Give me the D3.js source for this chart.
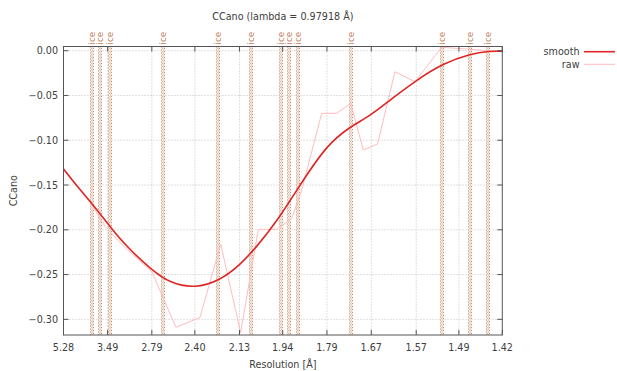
<!DOCTYPE html>
<html><head><meta charset="utf-8">
<script src="https://cdn.jsdelivr.net/npm/d3@7"></script>
<style>body{margin:0;background:#fff}svg{display:block}text{font-family:"DejaVu Sans",sans-serif}</style>
</head><body>
<script>
// x values are 1/d^2 (Å^-2); labels are resolution in Å
const xTickLabels = ["5.28","3.49","2.79","2.40","2.13","1.94","1.79","1.67","1.57","1.49","1.42"];
const yTicks = [0, -0.05, -0.10, -0.15, -0.20, -0.25, -0.30];
const iceRes = [3.897, 3.669, 3.441, 2.671, 2.249, 2.072, 1.948, 1.918, 1.883, 1.721, 1.521, 1.471, 1.442];
const smoothS = [0.0359,0.0511,0.0671,0.0846,0.1021,0.1284,0.1476,0.1737,0.1999,0.2209,0.2384,0.2594,0.2838,0.3118,0.3362,0.3572,0.3782,0.4061,0.4340,0.4620,0.4830,0.4959];
const smoothV = [-0.1321,-0.1528,-0.1723,-0.1966,-0.2189,-0.2449,-0.2596,-0.2655,-0.2565,-0.2394,-0.2189,-0.1910,-0.1500,-0.1053,-0.0849,-0.0729,-0.0551,-0.0327,-0.0141,-0.0037,-0.0003,-0.0007];
const rawS = [0.0385,0.0637,0.0794,0.0969,0.1284,0.1538,0.1790,0.2007,0.2216,0.2401,0.2594,0.2751,0.2856,0.3066,0.3223,0.3370,0.3502,0.3651,0.3834,0.4044,0.4323,0.4620,0.4812,0.4959];
const rawV = [-0.1355,-0.1690,-0.1960,-0.2162,-0.2468,-0.3089,-0.2978,-0.2159,-0.3150,-0.1995,-0.1995,-0.1875,-0.1556,-0.0699,-0.0699,-0.0588,-0.1109,-0.1042,-0.0235,-0.0346,0.0038,0.0016,0.0000,-0.0003];

const W = 617, H = 371;
const m = {l: 63.5, r: 502.3, t: 46.5, b: 335};
const svg = d3.select("body").append("svg").attr("width", W).attr("height", H);
const invD2 = d => 1 / (d * d);
const x = d3.scaleLinear().domain([invD2(5.28), invD2(1.42)]).range([m.l, m.r]);
const y = d3.scaleLinear().domain([-0.3175, 0.0047]).range([m.b, m.t]);
const txt = "#404040";

// grid
const xt = xTickLabels.map(l => invD2(+l));
svg.append("g").selectAll("line").data(xt.slice(1, -1)).join("line")
  .attr("x1", d => x(d)).attr("x2", d => x(d)).attr("y1", m.t).attr("y2", m.b)
  .attr("stroke", "#c0c0c0").attr("stroke-width", 1).attr("stroke-dasharray", "1,2");
svg.append("g").selectAll("line").data(yTicks).join("line")
  .attr("x1", m.l).attr("x2", m.r).attr("y1", d => y(d)).attr("y2", d => y(d))
  .attr("stroke", "#c0c0c0").attr("stroke-width", 1).attr("stroke-dasharray", "1,2");

// ice rings
const ice = svg.append("g");
iceRes.forEach(r => {
  const cx = Math.round(x(invD2(r)));
  ice.append("rect").attr("x", cx - 2).attr("y", m.t).attr("width", 4).attr("height", m.b - m.t)
    .attr("fill", "#f4ebe4");
  [-1.5, -0.5, 0.5, 1.5].forEach((o, k) => ice.append("line").attr("x1", cx + o).attr("x2", cx + o)
    .attr("y1", m.t).attr("y2", m.b).attr("stroke", k % 3 === 0 ? "#c4906e" : "#dcbca6").attr("stroke-width", 1)
    .attr("stroke-dasharray", "1,2").attr("stroke-dashoffset", k % 2 ? 1.5 : 0));
  ice.append("text").attr("transform", `translate(${cx + 3},${m.t - 2}) rotate(-90)`)
    .attr("font-size", 8.8).attr("fill", "#bf825c").text("ice");
});

// lines
const line = d3.line().x(d => x(d[0])).y(d => y(d[1]));
svg.append("path").datum(rawS.map((s, i) => [s, rawV[i]]))
  .attr("d", line).attr("fill", "none").attr("stroke", "#ffbcbc").attr("stroke-width", 1);
svg.append("path").datum(smoothS.map((s, i) => [s, smoothV[i]]))
  .attr("d", d3.line().x(d => x(d[0])).y(d => y(d[1])).curve(d3.curveBasis))
  .attr("fill", "none").attr("stroke", "#e02424").attr("stroke-width", 1.6);

// frame
svg.append("rect").attr("x", m.l).attr("y", m.t).attr("width", m.r - m.l).attr("height", m.b - m.t)
  .attr("fill", "none").attr("stroke", "#555").attr("stroke-width", 1);

// axes (ticks inward + mirror)
const tl = 5;
const ax = svg.append("g").attr("stroke", "#555");
xt.forEach(d => {
  ax.append("line").attr("x1", x(d)).attr("x2", x(d)).attr("y1", m.b).attr("y2", m.b - tl);
  ax.append("line").attr("x1", x(d)).attr("x2", x(d)).attr("y1", m.t).attr("y2", m.t + tl);
});
yTicks.forEach(d => {
  ax.append("line").attr("x1", m.l).attr("x2", m.l + tl).attr("y1", y(d)).attr("y2", y(d));
  ax.append("line").attr("x1", m.r).attr("x2", m.r - tl).attr("y1", y(d)).attr("y2", y(d));
});
svg.append("g").selectAll("text").data(xTickLabels).join("text")
  .attr("x", l => x(invD2(+l))).attr("y", 350.5).attr("text-anchor", "middle")
  .attr("font-size", 9.6).attr("fill", txt).text(l => l);
svg.append("g").selectAll("text").data(yTicks).join("text")
  .attr("x", 58).attr("y", d => y(d) + 3.5).attr("text-anchor", "end")
  .attr("font-size", 9.6).attr("fill", txt).text(d => d3.format(".2f")(d));

// titles
svg.append("text").attr("x", (m.l + m.r) / 2).attr("y", 20).attr("text-anchor", "middle")
  .attr("font-size", 9.6).attr("fill", txt).text("CCano (lambda = 0.97918 Å)");
svg.append("text").attr("x", (m.l + m.r) / 2).attr("y", 368).attr("text-anchor", "middle")
  .attr("font-size", 9.6).attr("fill", txt).text("Resolution [Å]");
svg.append("text").attr("transform", `translate(17,${(m.t + m.b) / 2}) rotate(-90)`).attr("text-anchor", "middle")
  .attr("font-size", 9.6).attr("fill", txt).text("CCano");

// legend
const leg = [["smooth", "#e02424", 1.6], ["raw", "#ffbcbc", 1]];
leg.forEach((l, i) => {
  const ly = 51.7 + i * 12.6;
  svg.append("text").attr("x", 579.5).attr("y", ly + 3.5).attr("text-anchor", "end")
    .attr("font-size", 9.6).attr("fill", txt).text(l[0]);
  svg.append("line").attr("x1", 584).attr("x2", 615).attr("y1", ly).attr("y2", ly)
    .attr("stroke", l[1]).attr("stroke-width", l[2]);
});
</script>
</body></html>
